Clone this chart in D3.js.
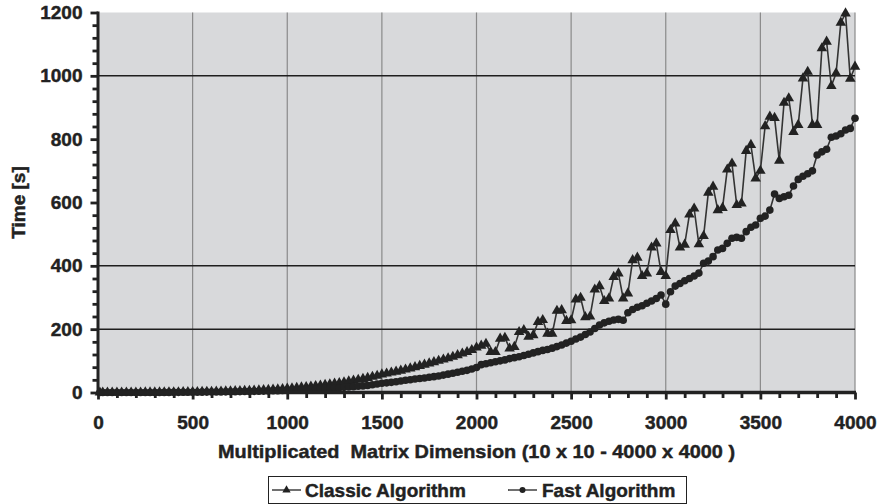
<!DOCTYPE html>
<html>
<head>
<meta charset="utf-8">
<script src="https://cdn.jsdelivr.net/npm/d3@7/dist/d3.min.js"></script>
<style>
  html, body { margin: 0; padding: 0; background: #fff; }
  svg { display: block; }
  text { font-family: "Liberation Sans", Arial, sans-serif; font-weight: bold; fill: #222; stroke: #222; stroke-width: 0.45px; }
</style>
</head>
<body>
<svg id="chart" width="879" height="504"></svg>
<script>
// ---------------- DATA ----------------
const dims = [10,
  25,50,75,100,125,150,175,200,225,250,275,300,325,350,375,400,425,450,475,500,
  525,550,575,600,625,650,675,700,725,750,775,800,825,850,875,900,925,950,975,1000,
  1025,1050,1075,1100,1125,1150,1175,1200,1225,1250,1275,1300,1325,1350,1375,1400,1425,1450,1475,1500,
  1525,1550,1575,1600,1625,1650,1675,1700,1725,1750,1775,1800,1825,1850,1875,1900,1925,1950,1975,2000,
  2025,2050,2075,2100,2125,2150,2175,2200,2225,2250,2275,2300,2325,2350,2375,2400,2425,2450,2475,2500,
  2525,2550,2575,2600,2625,2650,2675,2700,2725,2750,2775,2800,2825,2850,2875,2900,2925,2950,2975,3000,
  3025,3050,3075,3100,3125,3150,3175,3200,3225,3250,3275,3300,3325,3350,3375,3400,3425,3450,3475,3500,
  3525,3550,3575,3600,3625,3650,3675,3700,3725,3750,3775,3800,3825,3850,3875,3900,3925,3950,3975,4000];

const classicTimes = [0,
  0,0,0,0,0,0,0,0.1,0.1,0.2,0.2,0.3,0.4,0.5,0.6,0.7,0.9,1.0,1.2,1.4,
  1.6,1.9,2.1,2.4,2.7,3.0,3.4,3.8,4.2,4.6,5.1,5.6,6.2,6.8,7.5,8.2,9.0,9.8,10.8,12,
  13,14.5,16,17.5,19,20.5,22,24,26,28,30,32.5,35,37.5,40,43,46,49.5,53,57,
  60,63,66,69,72.5,76,80,84,88,92,96,100,104,108,113,118,123,128,134,142,
  148,154,128,128,170,173,139,144,191,197,176,181,223,229,186,186,258,260,226,228,
  294,299,238,240,325,336,289,297,365,376,297,313,418,426,368,376,458,471,381,368,
  513,534,458,467,562,581,468,494,631,650,576,583,704,723,592,597,763,782,676,700,
  841,871,867,732,915,929,823,845,992,1013,845,845,1087,1108,968,1008,1168,1197,991,1029];

const fastTimes = [0,
  0,0,0,0,0,0,0,0,0.1,0.1,0.1,0.2,0.2,0.3,0.3,0.4,0.5,0.6,0.7,0.8,
  0.9,1.1,1.2,1.4,1.6,1.8,2.0,2.3,2.5,2.8,3.1,3.4,3.7,4.1,4.5,4.9,5.3,5.8,6.3,6.8,
  7.4,8.0,8.6,9.3,10,10.8,11.6,12.4,13.3,14.2,15.2,16.2,17.3,18.4,19.6,20.8,22.5,24.5,26.7,29,
  30.5,32,34,36.5,38.5,40.5,42.5,44,46,48,50,52,55,58,61,64,67,70,74,79,
  88,91,94,97,100,103,107,110,113,117,121,125,129,133,136,140,145,150,156,162,
  169,175,183,191,202,213,220,225,229,231,228,252,262,269,274,282,289,297,308,279,
  318,336,344,353,360,368,377,408,415,429,450,455,471,487,490,487,508,522,529,550,
  557,576,627,613,618,623,652,673,683,691,700,750,760,768,806,810,817,829,834,866];

const yTicks = [0, 200, 400, 600, 800, 1000, 1200];
const yMinorTicks = [40,80,120,160,240,280,320,360,440,480,520,560,640,680,720,760,840,880,920,960,1040,1080,1120,1160];
const yGridValues = [200, 400, 1000];
const xTicks = [0, 500, 1000, 1500, 2000, 2500, 3000, 3500, 4000];
const xMinorTicks = [100,200,300,400,600,700,800,900,1100,1200,1300,1400,1600,1700,1800,1900,2100,2200,2300,2400,2600,2700,2800,2900,3100,3200,3300,3400,3600,3700,3800,3900];
const xGridValues = [500, 1000, 1500, 2000, 2500, 3000, 3500, 4000];

const seriesNames = ["Classic Algorithm", "Fast Algorithm"];
const xTitle = "Multiplicated  Matrix Dimension (10 x 10 - 4000 x 4000 )";
const yTitle = "Time [s]";

// ---------------- LAYOUT ----------------
const plot = { left: 98, right: 855, top: 12.5, bottom: 392.5 };
const svg = d3.select("#chart");

const x = d3.scaleLinear().domain([0, 4000]).range([plot.left, plot.right]);
const y = d3.scaleLinear().domain([0, 1200]).range([plot.bottom, plot.top]);

// plot background
svg.append("rect")
  .attr("x", plot.left).attr("y", plot.top)
  .attr("width", plot.right - plot.left).attr("height", plot.bottom - plot.top)
  .attr("fill", "#d8d9db");

// vertical grid
svg.append("g")
  .selectAll("line").data(xGridValues).join("line")
  .attr("x1", d => x(d)).attr("x2", d => x(d))
  .attr("y1", plot.top).attr("y2", plot.bottom)
  .attr("stroke", "#8a8a8a").attr("stroke-width", 1.2);

// horizontal grid
svg.append("g")
  .selectAll("line").data(yGridValues).join("line")
  .attr("x1", plot.left).attr("x2", plot.right)
  .attr("y1", d => y(d)).attr("y2", d => y(d))
  .attr("stroke", "#1e1e1e").attr("stroke-width", 1.5);

// ---------------- SERIES ----------------
const classicData = dims.map((d, i) => ({ x: d, y: classicTimes[i] }));
const fastData = dims.map((d, i) => ({ x: d, y: fastTimes[i] }));

const line = d3.line().x(d => x(d.x)).y(d => y(d.y));

svg.append("path").datum(classicData)
  .attr("d", line).attr("fill", "none")
  .attr("stroke", "#333").attr("stroke-width", 1.6);
svg.append("path").datum(fastData)
  .attr("d", line).attr("fill", "none")
  .attr("stroke", "#333").attr("stroke-width", 1.6);

const tri = d3.symbol().type(d3.symbolTriangle).size(48);
svg.append("g").selectAll("path").data(classicData).join("path")
  .attr("d", tri)
  .attr("transform", d => `translate(${x(d.x)},${y(d.y)})`)
  .attr("fill", "#222");

svg.append("g").selectAll("circle").data(fastData).join("circle")
  .attr("cx", d => x(d.x)).attr("cy", d => y(d.y)).attr("r", 3.8)
  .attr("fill", "#222");

// ---------------- AXES ----------------
const yAxisMinor = d3.axisLeft(y).tickValues(yMinorTicks).tickSize(5.5).tickFormat("");
const yAxis = d3.axisLeft(y).tickValues(yTicks).tickSize(7.5).tickPadding(8).tickFormat(d3.format("d"));
const xAxisMinor = d3.axisBottom(x).tickValues(xMinorTicks).tickSize(5.5).tickFormat("");
const xAxis = d3.axisBottom(x).tickValues(xTicks).tickSize(7).tickPadding(16).tickFormat(d3.format("d"));

function styleAxis(g) {
  g.select(".domain").remove();
  g.selectAll(".tick line").attr("stroke", "#222").attr("stroke-width", 2.8);
  g.selectAll(".tick text")
    .style("font-family", '"Liberation Sans", Arial, sans-serif')
    .style("font-weight", "bold").style("font-size", "19px")
    .attr("fill", "#222").attr("stroke", "#222").attr("stroke-width", 0.45);
}

svg.append("g").attr("transform", `translate(${plot.left},0)`).call(yAxisMinor).call(styleAxis);
svg.append("g").attr("transform", `translate(${plot.left},0)`).call(yAxis).call(styleAxis);
svg.append("g").attr("transform", `translate(0,${plot.bottom})`).call(xAxisMinor).call(styleAxis);
svg.append("g").attr("transform", `translate(0,${plot.bottom})`).call(xAxis).call(styleAxis);

// axis lines (thick)
svg.append("line")
  .attr("x1", plot.left).attr("x2", plot.left)
  .attr("y1", plot.top - 1).attr("y2", plot.bottom + 1.5)
  .attr("stroke", "#222").attr("stroke-width", 3);
svg.append("line")
  .attr("x1", plot.left - 1.5).attr("x2", plot.right + 1)
  .attr("y1", plot.bottom).attr("y2", plot.bottom)
  .attr("stroke", "#222").attr("stroke-width", 3.5);

// ---------------- TITLES ----------------
svg.append("text")
  .attr("x", (plot.left + plot.right) / 2).attr("y", 458)
  .attr("text-anchor", "middle")
  .style("white-space", "pre")
  .style("font-size", "19px")
  .attr("textLength", 517).attr("lengthAdjust", "spacingAndGlyphs")
  .text(xTitle);

svg.append("text")
  .attr("transform", `translate(25,${(plot.top + plot.bottom) / 2}) rotate(-90)`)
  .attr("text-anchor", "middle")
  .style("font-size", "19px")
  .text(yTitle);

// ---------------- LEGEND ----------------
const legend = svg.append("g");
legend.append("rect")
  .attr("x", 268.5).attr("y", 476.5).attr("width", 418).attr("height", 27)
  .attr("fill", "#fff").attr("stroke", "#222").attr("stroke-width", 1);

const legendItems = [
  { name: seriesNames[0], lx: 272, tx: 305, shape: "tri" },
  { name: seriesNames[1], lx: 508, tx: 542, shape: "circle" }
];
const ly = 490;
legendItems.forEach(it => {
  legend.append("line")
    .attr("x1", it.lx).attr("x2", it.lx + 29).attr("y1", ly).attr("y2", ly)
    .attr("stroke", "#222").attr("stroke-width", 1.3);
  if (it.shape === "tri") {
    legend.append("path").attr("d", d3.symbol().type(d3.symbolTriangle).size(30))
      .attr("transform", `translate(${it.lx + 14.5},${ly})`).attr("fill", "#222");
  } else {
    legend.append("circle").attr("cx", it.lx + 14.5).attr("cy", ly).attr("r", 3).attr("fill", "#222");
  }
  legend.append("text")
    .attr("x", it.tx).attr("y", ly + 6.8)
    .style("font-size", "19px")
    .text(it.name);
});
</script>
</body>
</html>
